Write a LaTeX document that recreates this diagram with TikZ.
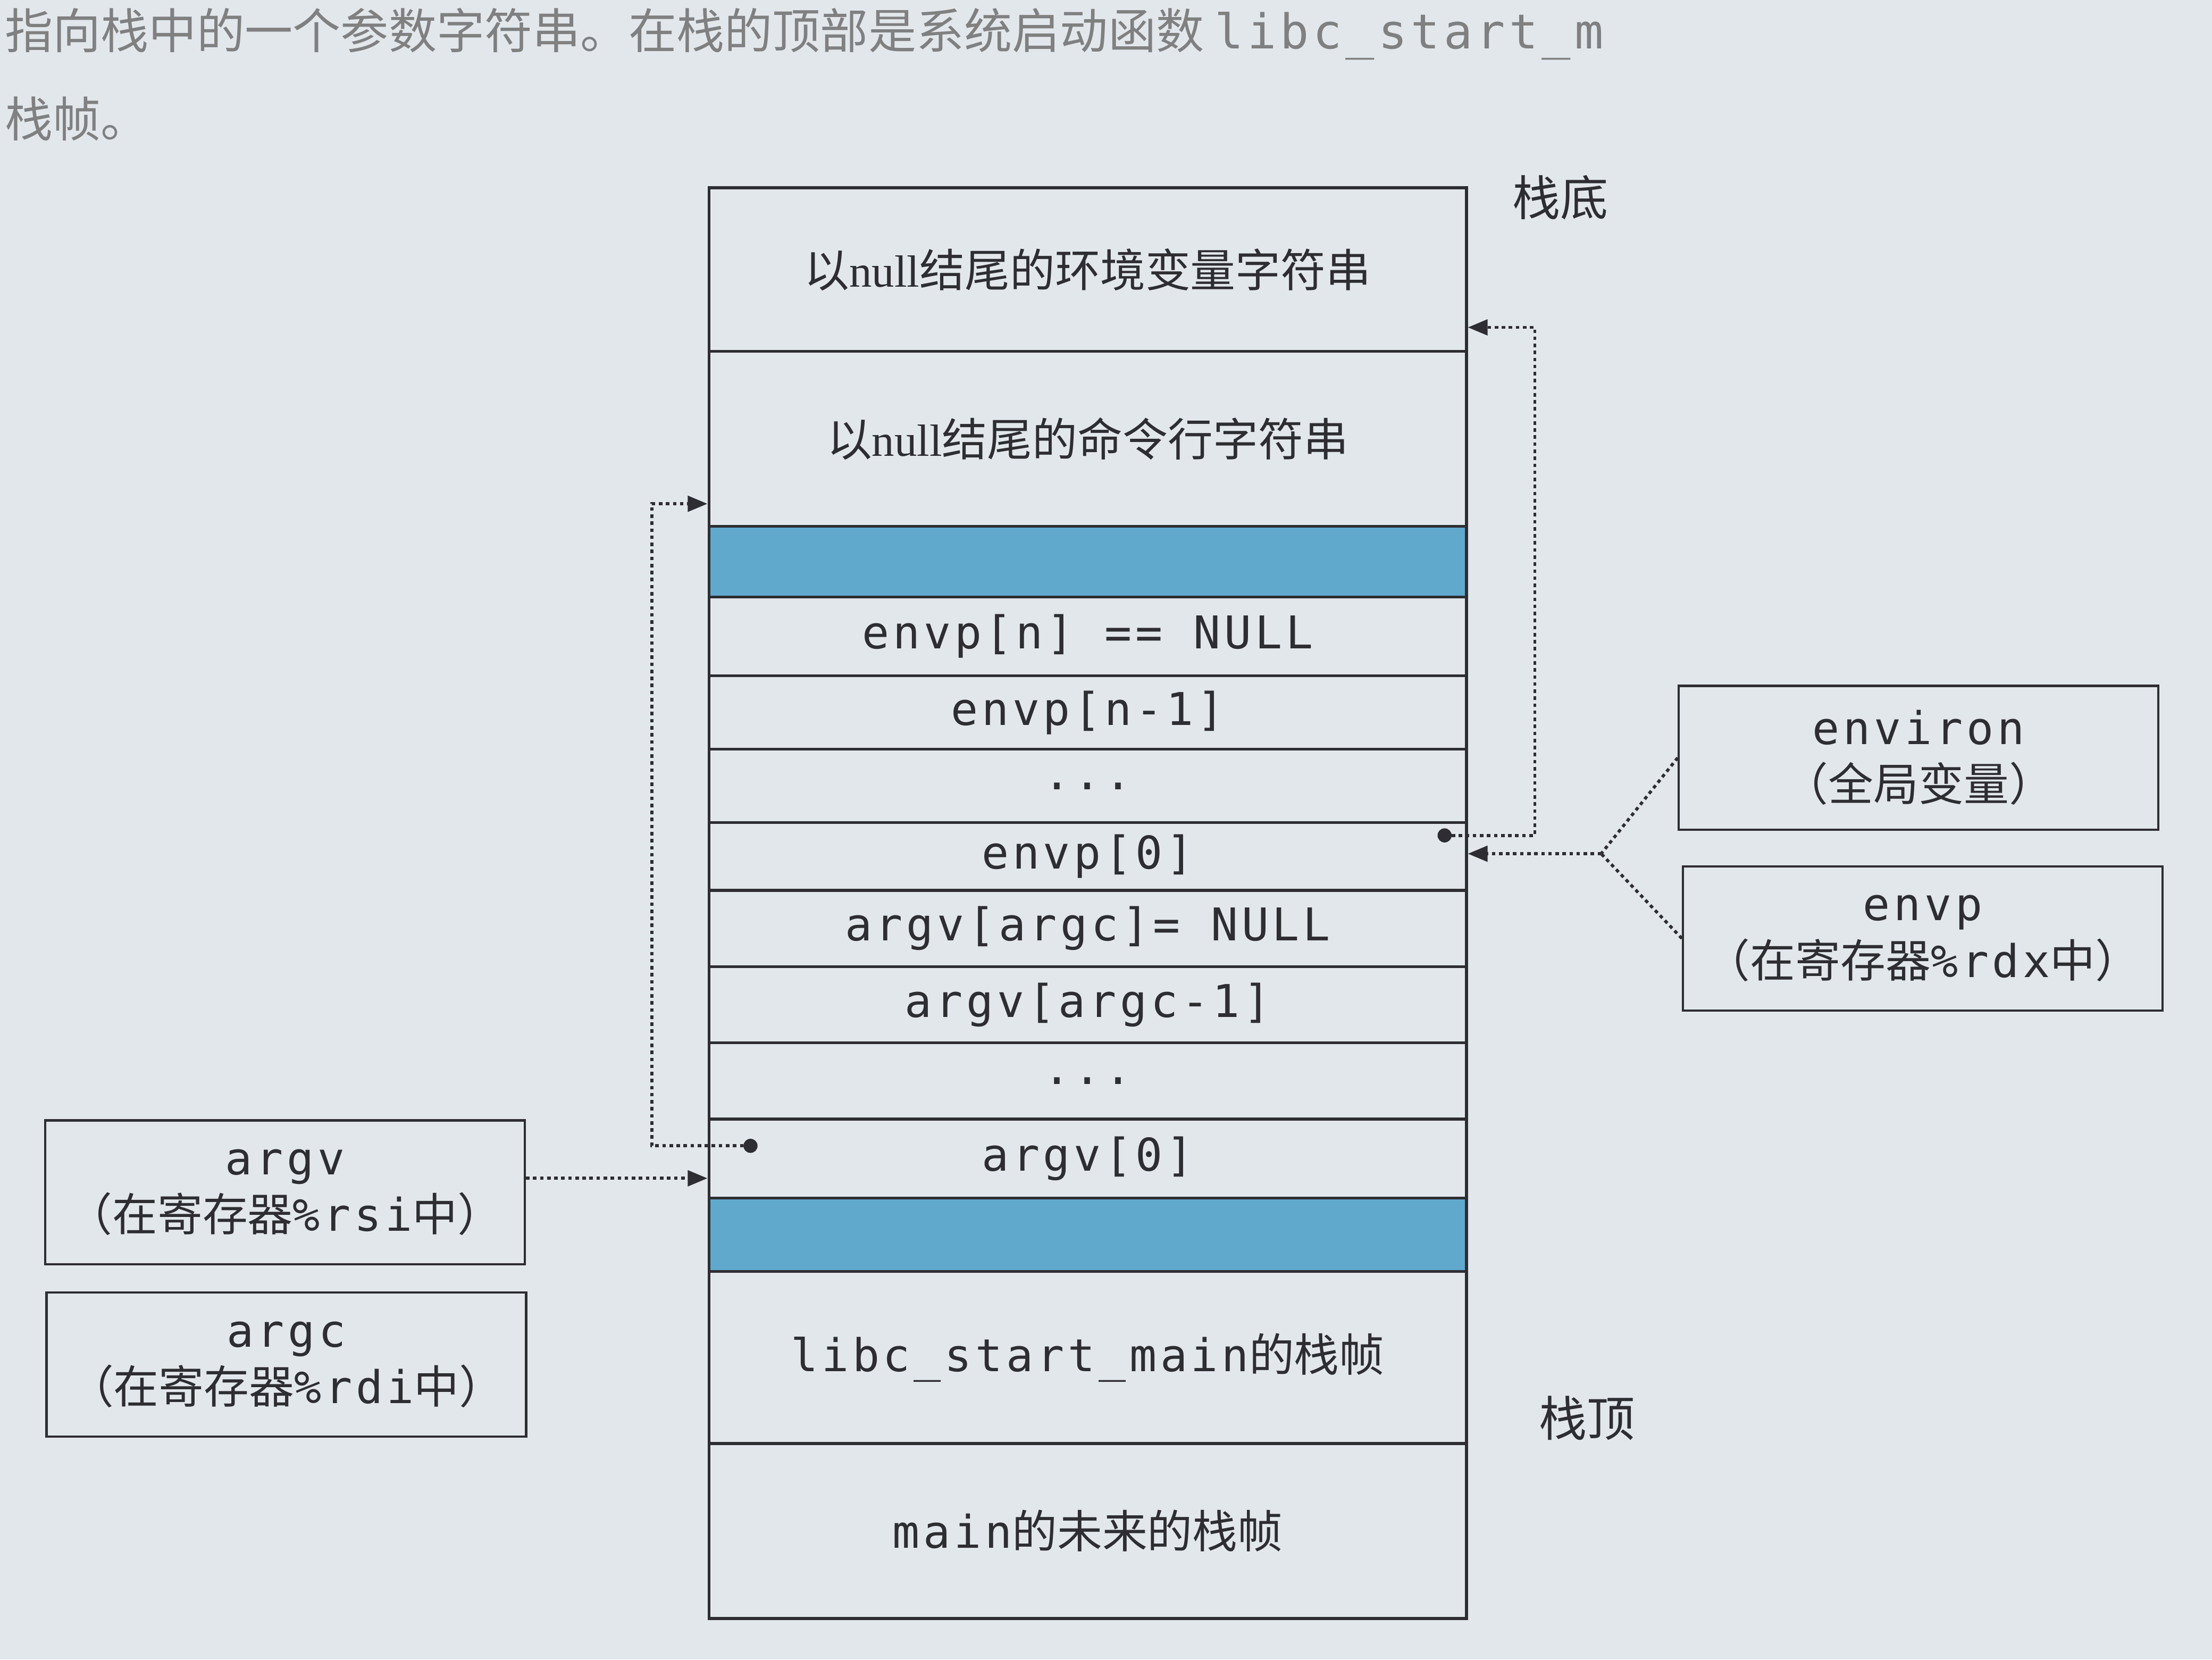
\documentclass[tikz,border=0pt]{standalone}
\usepackage{fontspec}
\setmainfont{Liberation Serif}
\newfontfamily\cjk{Noto Sans CJK SC}
\newfontfamily\mono{DejaVu Sans Mono}[LetterSpace=8]
\usetikzlibrary{arrows.meta}
\definecolor{paper}{RGB}{226,231,236}
\definecolor{stackblue}{RGB}{96,168,204}
\definecolor{ink}{RGB}{45,45,50}
\begin{document}
\begin{tikzpicture}[x=1pt,y=-1pt,
  row/.style={draw=ink,line width=2pt,minimum width=537pt,inner sep=0pt,anchor=north,font=\fontsize{32}{34}\selectfont,text=ink},
  side/.style={draw=ink,line width=1.6pt,minimum width=340pt,minimum height=102pt,align=center,inner sep=0pt,font=\fontsize{32}{40}\selectfont,text=ink},
  dot/.style={draw=ink,line width=2.2pt,dash pattern=on 2.5pt off 2.5pt},
  arr/.style={dot,-{Triangle[length=14pt,width=11pt,fill=ink]}},
  lbl/.style={font=\cjk\fontsize{34}{34}\selectfont,text=ink}]
\fill[paper] (0,0) rectangle (1568,1176);
\useasboundingbox (0,0) rectangle (1568,1176);
\node[lbl,anchor=west,text=gray] (t1) at (0,24) {指向栈中的一个参数字符串。在栈的顶部是系统启动函数 {\mono libc\_start\_m}};
\node[lbl,anchor=west,text=gray] (t2) at (0,84) {栈帧。};
% stack
\node[row,minimum height=116pt] (r1) at (771,132) {{\cjk 以}null{\cjk 结尾的环境变量字符串}};
\node[row,minimum height=124pt] (r2) at (771,248) {{\cjk 以}null{\cjk 结尾的命令行字符串}};
\node[row,minimum height=50pt,fill=stackblue] (r3) at (771,372) {};
\node[row,minimum height=56pt] (r4) at (771,422) {\mono envp[n] == NULL};
\node[row,minimum height=52pt] (r5) at (771,478) {\mono envp[n-1]};
\node[row,minimum height=52pt] (r6) at (771,530) {\mono ...};
\node[row,minimum height=48pt] (r7) at (771,582) {\mono envp[0]};
\node[row,minimum height=54pt] (r8) at (771,630) {\mono argv[argc]= NULL};
\node[row,minimum height=54pt] (r9) at (771,684) {\mono argv[argc-1]};
\node[row,minimum height=54pt] (r10) at (771,738) {\mono ...};
\node[row,minimum height=56pt] (r11) at (771,792) {\mono argv[0]};
\node[row,minimum height=52pt,fill=stackblue] (r12) at (771,848) {};
\node[row,minimum height=122pt] (r13) at (771,900) {{\mono libc\_start\_main}{\cjk 的栈帧}};
\node[row,minimum height=124pt] (r14) at (771,1022) {{\mono main}{\cjk 的未来的栈帧}};
\node[lbl] (bot) at (1106,140) {栈底};
\node[lbl] (top) at (1125,1005) {栈顶};
% side boxes
\node[side] (environ) at (1360,537) {{\mono environ}\\{\cjk （全局变量）}};
\node[side] (envpreg) at (1363,665) {{\mono envp}\\{\cjk （在寄存器}{\mono \%rdx}{\cjk 中）}};
\node[side] (argvreg) at (202,845) {{\mono argv}\\{\cjk （在寄存器}{\mono \%rsi}{\cjk 中）}};
\node[side] (argcreg) at (203,967) {{\mono argc}\\{\cjk （在寄存器}{\mono \%rdi}{\cjk 中）}};
% connectors
\coordinate (d1) at (1024,592);
\coordinate (d2) at (532,812);
\fill[ink] (d1) circle (5pt);
\fill[ink] (d2) circle (5pt);
\draw[arr] (d1) -- (1088,592) -- (1088,232) -- (r1.south east |- 0,232);
\draw[arr] (d2) -- (462,812) -- (462,357) -- (r2.west |- 0,357);
\coordinate (j) at (1135,605);
\draw[dot] (environ.west) -- (j);
\draw[dot] (envpreg.west) -- (j);
\draw[arr] (j) -- (r7.east |- 0,605);
\draw[arr] (argvreg.east |- 0,835) -- (r11.west |- 0,835);
\end{tikzpicture}
\end{document}
